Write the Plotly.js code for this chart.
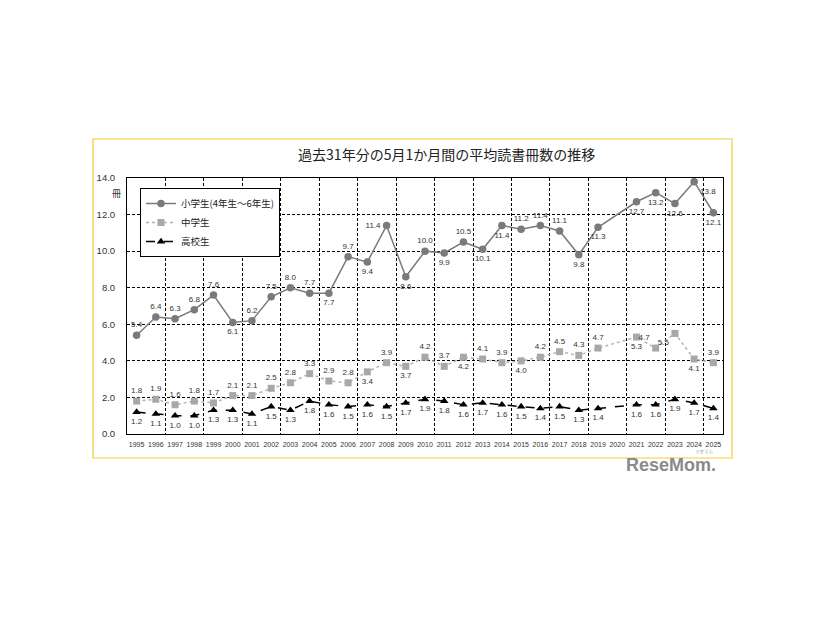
<!DOCTYPE html>
<html>
<head>
<meta charset="utf-8">
<script src="https://cdn.plot.ly/plotly-3.0.1.min.js"></script>
<style>html,body{margin:0;padding:0;background:#fff;}#chart{width:826px;height:620px;}</style>
</head>
<body>
<div id="chart"></div>
<script>
// ---- data ----
const years = [1995,1996,1997,1998,1999,2000,2001,2002,2003,2004,2005,2006,2007,2008,2009,2010,
               2011,2012,2013,2014,2015,2016,2017,2018,2019,2020,2021,2022,2023,2024,2025];
const elementary = [5.4,6.4,6.3,6.8,7.6,6.1,6.2,7.5,8.0,7.7,7.7,9.7,9.4,11.4,8.6,10.0,
                    9.9,10.5,10.1,11.4,11.2,11.4,11.1,9.8,11.3,null,12.7,13.2,12.6,13.8,12.1];
const juniorHigh = [1.8,1.9,1.6,1.8,1.7,2.1,2.1,2.5,2.8,3.3,2.9,2.8,3.4,3.9,3.7,4.2,
                    3.7,4.2,4.1,3.9,4.0,4.2,4.5,4.3,4.7,null,5.3,4.7,5.5,4.1,3.9];
const highSchool = [1.2,1.1,1.0,1.0,1.3,1.3,1.1,1.5,1.3,1.8,1.6,1.5,1.6,1.5,1.7,1.9,
                    1.8,1.6,1.7,1.6,1.5,1.4,1.5,1.3,1.4,null,1.6,1.6,1.9,1.7,1.4];
const seriesNames = ['小学生(4年生～6年生)','中学生','高校生'];
const chartTitle = '過去31年分の5月1か月間の平均読書冊数の推移';
const unitLabel = '冊';
const yTicks = [0,2,4,6,8,10,12,14];

// ---- label placement (style only) ----
const T='top center', B='bottom center';
const posElem = [T,T,T,T,T,B,T,T,T,T,B,T,B,'middle left',B,T,B,T,B,B,T,T,T,B,B,B,B,B,B,'bottom right',B];
const posJunior = [T,T,T,T,T,T,T,T,T,T,T,T,B,T,B,T,T,B,T,T,B,T,T,T,T,B,B,'top left','bottom left',B,T];
const posHigh = years.map(()=>B);

const lblFont = {family:'Liberation Sans, Arial, sans-serif', size:8, color:'#333'};

function lineTrace(y, name, line, marker){
  return {x:years, y:y, name:name, type:'scatter', mode:'lines+markers', connectgaps:true,
          line:line, marker:marker, hoverinfo:'skip'};
}
function textTrace(y, pos){
  return {x:years, y:y, type:'scatter', mode:'markers+text', text:y.map(v=>v==null?'':v.toFixed(1)),
          marker:{size:8, opacity:0}, textposition:pos, textfont:lblFont, showlegend:false,
          hoverinfo:'skip', cliponaxis:false};
}

const traces = [
  lineTrace(elementary, seriesNames[0], {color:'#7a7a7a', width:1.5}, {symbol:'circle', size:7.5, color:'#7a7a7a'}),
  lineTrace(juniorHigh, seriesNames[1], {color:'#b3b3b3', width:1.5, dash:'dot'}, {symbol:'square', size:7, color:'#a8a8a8'}),
  lineTrace(highSchool, seriesNames[2], {color:'#000', width:1.5, dash:'dash'}, {symbol:'triangle-up', size:7.5, color:'#000'}),
  textTrace(elementary, posElem),
  textTrace(juniorHigh, posJunior),
  textTrace(highSchool, posHigh),
  {x:[years[0]], y:[null], xaxis:'x2', type:'scatter', mode:'markers', showlegend:false, hoverinfo:'skip'}
];

const L=127, R=723, TOP=178, BOT=434, W=826, H=620;
const pw=R-L, ph=BOT-TOP;
const px = v => (v-L)/pw, py = v => (BOT-v)/ph;

const layout = {
  width:W, height:H,
  margin:{l:L, r:W-R, t:TOP, b:H-BOT, pad:0},
  paper_bgcolor:'#fff', plot_bgcolor:'#fff',
  showlegend:true,
  title:{text:chartTitle, font:{family:'Noto Sans CJK JP, sans-serif', size:14, color:'#222'},
         x:443/W, xanchor:'center', xref:'paper', y:1-155/H, yanchor:'middle', yref:'container'},
  xaxis:{range:[1994.5,2025.5], tickmode:'array', tickvals:years, ticktext:years.map(String),
         showgrid:false, zeroline:false, showline:true, mirror:true, linecolor:'#000', linewidth:1,
         ticks:'', ticklabelstandoff:4,
         tickfont:{family:'Liberation Sans, Arial, sans-serif', size:7, color:'#333'},
         tickangle:0, fixedrange:true},
  xaxis2:{range:[1994.5,2025.5], overlaying:'x', anchor:'y', side:'bottom', tick0:1996.5, dtick:2,
          showticklabels:false, showgrid:true, gridcolor:'#000', gridwidth:1, griddash:'3px,2px',
          zeroline:false, showline:false, ticks:''},
  yaxis:{range:[0,14], tickmode:'array', tickvals:yTicks, ticktext:yTicks.map(v=>v.toFixed(1)),
         showgrid:true, gridcolor:'#000', gridwidth:1, griddash:'3px,2px', zeroline:false,
         showline:true, mirror:true, linecolor:'#000', linewidth:1, ticks:'', ticklabelstandoff:9,
         tickfont:{family:'Liberation Sans, Arial, sans-serif', size:9.5, color:'#333'}, fixedrange:true},
  legend:{x:px(140), y:py(188), xanchor:'left', yanchor:'top', bgcolor:'#fff', bordercolor:'#000', borderwidth:1,
          font:{family:'Noto Sans CJK JP, sans-serif', size:9.5, color:'#222'}, tracegroupgap:0, itemwidth:30},
  shapes:[{type:'rect', xref:'paper', yref:'paper', x0:px(93), x1:px(732), y0:py(458), y1:py(139),
           line:{color:'#f7cc2e', width:1.2}, fillcolor:'rgba(0,0,0,0)', layer:'below'}],
  annotations:[
    {text:unitLabel, xref:'paper', yref:'paper', x:px(116), y:py(193), xanchor:'center', yanchor:'middle',
     showarrow:false, font:{family:'Noto Sans CJK JP, sans-serif', size:9, color:'#333'}},
    {text:'<b>ReseMom.</b>', xref:'paper', yref:'paper', x:px(671), y:py(465), xanchor:'center', yanchor:'middle',
     showarrow:false, borderpad:0, font:{family:'Liberation Sans, Arial, sans-serif', size:18, color:'#8a8a8a'}},
    {text:'リセマム', xref:'paper', yref:'paper', x:px(704), y:py(451), xanchor:'center', yanchor:'middle',
     showarrow:false, borderpad:0, font:{family:'Noto Sans CJK JP, sans-serif', size:4.5, color:'#999'}}
  ]
};

Plotly.newPlot('chart', traces, layout, {displayModeBar:false, staticPlot:true});
</script>
</body>
</html>
